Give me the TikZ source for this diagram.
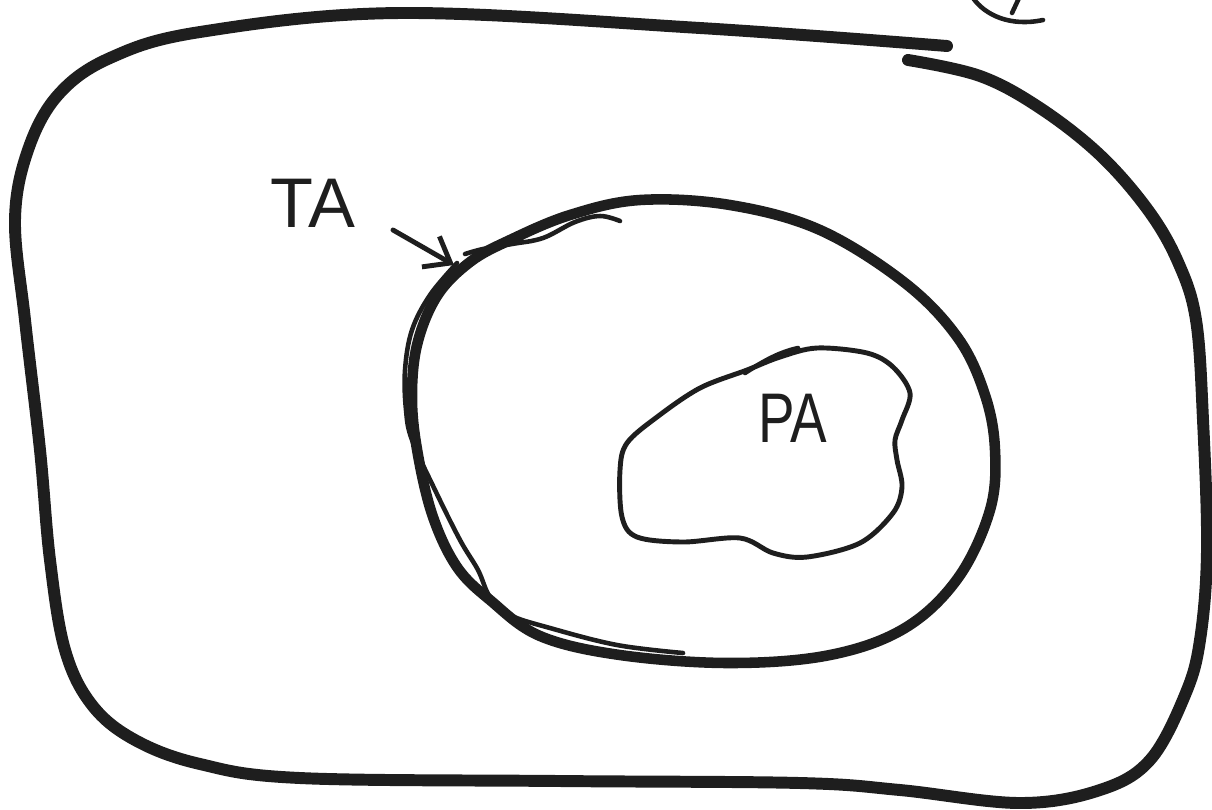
\documentclass[tikz,border=0pt]{standalone}
\usepackage{fontspec}
\setmainfont{Liberation Sans}
\usepackage{xcolor}
\usepackage{tikz}
\usetikzlibrary{arrows.meta}

\definecolor{ink}{HTML}{1E1E1E}

\begin{document}
\begin{tikzpicture}[
    x=0.02cm,
    y=-0.02cm,
    line cap=round,
    line join=round,
    >={Straight Barb[length=13pt,width=20pt]},
    heavy/.style={
        draw=ink,
        line width=6.8pt
    },
    thin/.style={
        draw=ink,
        line width=2.6pt
    },
    hand/.style={
        text=ink,
        inner sep=0pt,
        font=\fontsize{40}{40}\selectfont
    }
]
\useasboundingbox (0,0) rectangle (1212,809);

% =========================================================
% outer region
% =========================================================
\draw[heavy] plot[smooth, tension=0.6] coordinates {
    (947,46) (700,28) (400,13) (200,32) (110,58) (58,95) (28,150) (15,220)
    (25,320) (40,450) (50,560) (65,650) (92,705) (135,740) (200,764)
    (300,778) (560,781) (800,783) (900,790) (1020,803)
    (1100,790) (1150,760) (1185,695) (1200,640) (1207,550) (1203,420)
    (1196,320) (1178,262) (1148,210) (1100,155) (1040,108)
    (980,76) (908,60)};

% little doodle cut by the top edge
\draw[thin] (973,-2) .. controls (985,15) and (1010,27) .. (1043,20);
\draw[thin] (1019,-2) -- (1012,13);

% =========================================================
% TA region
% =========================================================
\draw[heavy, line width=6pt] plot[smooth cycle, tension=0.6] coordinates {
    (412,400) (418,455) (433,517) (457,567) (490,600) (540,636)
    (620,655) (730,663) (830,655) (905,628) (958,578) (990,510)
    (995,450) (985,395) (958,338) (905,283) (820,230) (730,205)
    (640,200) (570,215) (510,240) (470,262) (437,296) (417,345)};

% second pass of the pen
\draw[thin] plot[smooth, tension=0.6] coordinates {
    (457,263) (430,295) (412,330) (405,370) (406,410) (412,440)
    (435,490) (460,540) (478,570) (490,597) (510,615) (550,628)
    (617,645) (683,653)};
\draw[thin] plot[smooth, tension=0.6] coordinates {
    (465,254) (483,249) (512,244) (543,238) (575,222) (600,216) (620,221)};
\draw[thin] (520,240) -- (526,233);

\node[hand] (ta) at (313,203) {TA};
\coordinate (tatail) at (393,230);
\coordinate (tatip) at (454,265);
\draw[->, thin, line width=2.8pt] (tatail) -- (tatip);

% =========================================================
% PA region
% =========================================================
\draw[thin, line width=2.8pt] plot[smooth cycle, tension=0.55] coordinates {
    (747,370) (700,388) (657,417) (627,443) (620,470) (622,517)
    (637,537) (683,542) (740,538) (773,553) (807,557) (860,543)
    (893,513) (902,487) (897,460) (895,440) (902,420) (910,393)
    (893,367) (867,353) (817,348) (780,357)};
\draw[thin] (745,373) .. controls (765,360) and (780,352) .. (798,348);

\node[hand] (pa) at (793,418) {\scalebox{0.78}[1]{PA}};

\end{tikzpicture}
\end{document}
